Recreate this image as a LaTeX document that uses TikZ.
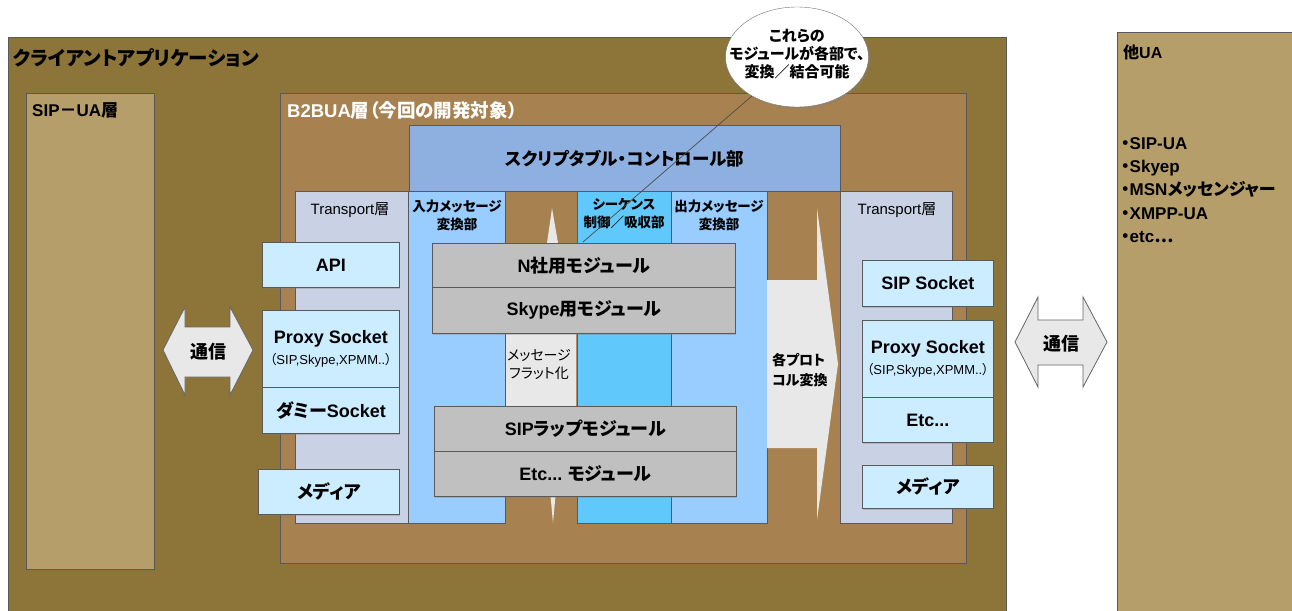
\documentclass[tikz,border=0pt]{standalone}
\usepackage{fontspec}
\setmainfont{Noto Sans CJK JP}[RawFeature={+palt}]
\newfontfamily\lat{Liberation Sans}
\usetikzlibrary{shapes.geometric,shadows,positioning}
\definecolor{clientbg}{RGB}{141,116,56}
\definecolor{tanbg}{RGB}{182,158,106}
\definecolor{b2buabg}{RGB}{168,129,80}
\definecolor{ctrlbg}{RGB}{141,176,224}
\definecolor{trbg}{RGB}{200,210,228}
\definecolor{msgbg}{RGB}{153,204,255}
\definecolor{seqbg}{RGB}{96,200,250}
\definecolor{sockbg}{RGB}{204,236,255}
\definecolor{modbg}{RGB}{192,192,192}
\definecolor{arrowbg}{RGB}{232,232,232}
\tikzset{
%Define standard arrow tip
>=stealth,
%Define style for the layers and the boxes in them
panel/.style={draw=black!65, line width=0.8pt, anchor=north west, inner sep=0pt, fill=#1},
wh/.style 2 args={minimum width=#1, minimum height=#2},
sock/.style={panel=sockbg, align=center, font=\fontsize{18}{23}\selectfont\bfseries,
  drop shadow={shadow xshift=1pt, shadow yshift=-1.5pt, opacity=.35}},
module/.style={panel=modbg, font=\fontsize{18}{22}\selectfont\bfseries,
  drop shadow={shadow xshift=1pt, shadow yshift=-1.5pt, opacity=.35}},
%Labels of the layers
tag/.style={inner sep=0pt, anchor=west},
colhead/.style={inner sep=0pt, align=center, font=\fontsize{13.5}{18}\selectfont\bfseries},
%Block arrows
flow/.style={draw=black!60, line width=0.8pt, fill=arrowbg},
}

\begin{document}
\begin{tikzpicture}[x=1pt,y=-1pt]
    %Canvas of the same size as the reference
    \useasboundingbox (0,0) rectangle (1292,610);
    \clip (0,0) rectangle (1292,610);
    \fill[white] (0,0) rectangle (1292,610);

    %Outer layers
    \node[panel=clientbg, wh={998}{590}] (client) at (8,37) {};
    \node[panel=tanbg, wh={190}{600}] (otherua) at (1117,32) {};
    \node[panel=tanbg, wh={128}{476}] (sipua) at (26,93) {};
    \node[panel=b2buabg, wh={686}{470}] (b2bua) at (280,93) {};

    \node[tag, font=\fontsize{19.5}{22}\selectfont\bfseries] (clienttitle) at (13,58) {クライアントアプリケーション};
    \node[tag, font=\fontsize{17}{20}\selectfont\bfseries] (sipuatitle) at (32,110) {{\lat SIP}－{\lat UA}層};
    \node[tag, white, font=\fontsize{18.5}{20}\selectfont\bfseries] (b2buatitle) at (287,110) {{\lat B2BUA}層（今回の開発対象）};

    %Script control part above the columns
    \node[panel=ctrlbg, wh={431}{66}, font=\fontsize{17.5}{20}\selectfont\bfseries] (control) at (409,125) {スクリプタブル・コントロール部};

    %Flattening in the gap between the columns
    \draw[flow, draw=none] (552,208) -- (558,243) -- (576,333) -- (576,405) -- (556,490)
      -- (553,523) -- (550,490) -- (505,405) -- (505,333) -- (547,243) -- cycle;

    %Columns
    \node[panel=trbg, wh={113}{332}] (trleft) at (295,191) {};
    \node[panel=msgbg, wh={97}{332}] (inmsg) at (408,191) {};
    \node[panel=seqbg, wh={94}{332}] (seq) at (577,191) {};
    \node[panel=msgbg, wh={96}{332}] (outmsg) at (671,191) {};
    \node[panel=trbg, wh={112}{332}] (trright) at (840,191) {};

    \node[colhead, font=\fontsize{15}{18}\selectfont] (trlefttitle) at (350,210) {{\lat Transport}層};
    \node[colhead] (inmsgtitle) at (457,215) {入力メッセージ\\変換部};
    \node[colhead] (seqtitle) at (624,214) {シーケンス\\制御／吸収部};
    \node[colhead] (outmsgtitle) at (719,215) {出力メッセージ\\変換部};
    \node[colhead, font=\fontsize{15}{18}\selectfont] (trrighttitle) at (897,210) {{\lat Transport}層};

    %Protocol conversion arrow
    \draw[flow, draw=none] (767,280) -- (817,280) -- (817,208) -- (838,364) -- (817,520)
      -- (817,448) -- (767,448) -- cycle;
    \node[tag, align=left, font=\fontsize{14}{20}\selectfont\bfseries] (protolabel) at (772,370) {各プロト\\コル変換};

    %Sockets on the left
    \node[sock, wh={137}{45}] (api) at (262,242) {\lat API};
    \node[sock, wh={137}{77}] (proxyleft) at (262,310) {{\lat Proxy Socket}\\[-2pt]{\fontsize{13}{15}\selectfont\mdseries（{\lat SIP,Skype,XPMM..}）}};
    \node[sock, wh={137}{46}] (dummy) at (262,387) {ダミー{\lat Socket}};
    \node[sock, wh={141}{45}] (medialeft) at (258,469) {メディア};

    %Sockets on the right
    \node[sock, wh={131}{46}] (sipsocket) at (862,260) {\lat SIP Socket};
    \node[sock, wh={131}{77}] (proxyright) at (862,320) {{\lat Proxy Socket}\\[-2pt]{\fontsize{13}{15}\selectfont\mdseries（{\lat SIP,Skype,XPMM..}）}};
    \node[sock, wh={131}{45}] (etcright) at (862,397) {\lat Etc...};
    \node[sock, wh={131}{43}] (mediaright) at (862,465) {メディア};

    %Modules across the columns
    \node[module, wh={303}{44}] (nmod) at (432,243) {{\lat N}社用モジュール};
    \node[module, wh={303}{46}] (skypemod) at (432,287) {{\lat Skype}用モジュール};
    \node[module, wh={302}{45}] (sipmod) at (434,406) {{\lat SIP}ラップモジュール};
    \node[module, wh={302}{45}] (etcmod) at (434,451) {{\lat Etc...} モジュール};

    \node[colhead, font=\fontsize{14}{18}\selectfont] (flatlabel) at (539,364) {メッセージ\\フラット化};

    %Other user agents
    \node[tag, font=\fontsize{16}{20}\selectfont\bfseries] (otheruatitle) at (1123,52) {他{\lat UA}};
    \node[tag, align=left, font=\fontsize{17}{23.3}\selectfont\bfseries] (otheruelist) at (1121,190)
      {・{\lat SIP-UA}\\・{\lat Skyep}\\・{\lat MSN}メッセンジャー\\・{\lat XMPP-UA}\\・{\lat etc}…};

    %Communication arrows
    \draw[flow] (163,350) -- (185,307) -- (185,327) -- (230,327) -- (230,307) -- (253,350)
      -- (230,395) -- (230,377) -- (185,377) -- (185,395) -- cycle;
    \node[font=\fontsize{18}{20}\selectfont\bfseries] (commleft) at (208,352) {通信};
    \draw[flow] (1015,342) -- (1038,297) -- (1038,320) -- (1083,320) -- (1083,297) -- (1107,342)
      -- (1083,387) -- (1083,365) -- (1038,365) -- (1038,387) -- cycle;
    \node[font=\fontsize{18}{20}\selectfont\bfseries] (commright) at (1061,344) {通信};

    %Speech bubble with its pointer
    \node[ellipse, draw=black!55, fill=white, wh={143}{100}, inner sep=0pt,
      drop shadow={shadow xshift=2pt, shadow yshift=-2pt, opacity=.3}] (note) at (797,57) {};
    \node[align=center, inner sep=0pt, font=\fontsize{15}{18}\selectfont\bfseries] (notetext) at (797,54)
      {これらの\\モジュールが各部で、\\変換／結合可能};
    \coordinate (hint) at (583,242);
    \draw[black!70, line width=0.7pt] (note) -- (hint);
\end{tikzpicture}
\end{document}
